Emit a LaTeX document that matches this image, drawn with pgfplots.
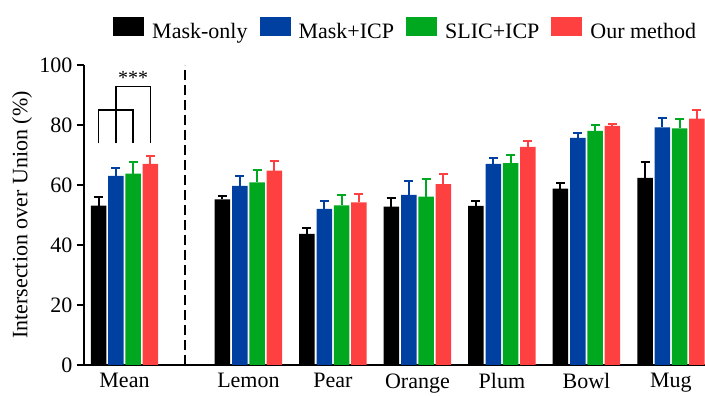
\documentclass[border=0pt]{standalone}
\usepackage{pgfplots}
\pgfplotsset{compat=1.18}
\usepackage{pgfplotstable}
\usepackage{fontspec}
\setmainfont{Liberation Serif}
\definecolor{cblue}{RGB}{0,64,160}
\definecolor{cgreen}{RGB}{0,168,32}
\definecolor{cred}{RGB}{255,64,64}

\pgfplotstableread{
x y e
0 53.1 2.8
1.467 55.2 1.0
2.467 43.7 2.0
3.467 52.8 3.0
4.467 53.0 1.8
5.467 58.8 1.8
6.467 62.4 5.3
}\maskonly
\pgfplotstableread{
x y e
0 63.0 2.7
1.467 59.7 3.2
2.467 52.0 2.7
3.467 56.7 4.5
4.467 67.0 2.1
5.467 75.7 1.6
6.467 79.2 3.2
}\maskicp
\pgfplotstableread{
x y e
0 63.8 3.8
1.467 60.9 4.2
2.467 53.2 3.6
3.467 56.1 5.8
4.467 67.3 2.8
5.467 78.0 1.9
6.467 78.9 3.2
}\slicicp
\pgfplotstableread{
x y e
0 67.0 2.6
1.467 64.8 3.1
2.467 54.2 2.7
3.467 60.3 3.5
4.467 72.7 1.8
5.467 79.7 0.6
6.467 82.1 3.0
}\ours

\pgfplotsset{
  eb/.style={fill=#1, draw=none,
    error bars/y dir=plus, error bars/y explicit,
    error bars/error bar style={line width=2pt, draw=#1},
    error bars/error mark options={line width=2pt, mark size=4.5pt, draw=#1, rotate=90}},
}

\begin{document}
\begin{tikzpicture}
\path[use as bounding box] (-84pt,-31pt) rectangle (621pt,365pt);
\begin{axis}[
  at={(0,0)}, anchor=south west,
  scale only axis,
  width=621pt, height=300pt,
  xmin=-0.479, xmax=6.87,
  ymin=0, ymax=100,
  axis x line*=bottom, axis y line*=left,
  axis line style={line width=1.5pt},
  ybar=1.8pt, bar width=15.5pt,
  xtick={0,1.467,2.467,3.467,4.467,5.467,6.467},
  xticklabels={Mean,Lemon,Pear,Orange,Plum,Bowl,Mug},
  x tick style={draw=none},
  ytick={0,20,40,60,80,100},
  ytick pos=left,
  tick align=outside,
  y tick style={line width=1.5pt, black},
  major tick length=7pt,
  font=\fontsize{22}{26}\selectfont,
  /pgf/number format/assume math mode=true,
  yticklabel style={xshift=-1pt},
  xticklabel style={yshift=2pt},
  ylabel={Intersection over Union (\%)},
  every axis y label/.style={at={(axis description cs:-0.0998,0.5)}, anchor=center, rotate=90},
  legend columns=4,
  legend style={draw=none, fill=none, at={(0.518,1.068)}, anchor=south,
    font=\fontsize{22}{26}\selectfont,
    /tikz/every odd column/.append style={column sep=6pt},
    /tikz/every even column/.append style={column sep=10pt}},
  legend image code/.code={\fill[#1] (0pt,-4pt) rectangle (31pt,15pt);},
  clip=false,
]
\addplot[eb=black] table[x=x, y=y, y error=e] {\maskonly};
\addplot[eb=cblue] table[x=x, y=y, y error=e] {\maskicp};
\addplot[eb=cgreen] table[x=x, y=y, y error=e] {\slicicp};
\addplot[eb=cred] table[x=x, y=y, y error=e] {\ours};
\legend{Mask-only, Mask+ICP, SLIC+ICP, Our method}
% separator
\draw[line width=2.7pt, dash pattern=on 10pt off 5pt] (axis cs:0.716,0) -- (axis cs:0.716,100);
% significance brackets
\draw[line width=1.5pt] (axis cs:-0.307,73.9) -- (axis cs:-0.307,85) -- (axis cs:0.102,85) -- (axis cs:0.102,73.9);
\draw[line width=1.5pt] (axis cs:-0.102,73.9) -- (axis cs:-0.102,92.8) -- (axis cs:0.307,92.8) -- (axis cs:0.307,73.9);
\node[font=\fontsize{20}{22}\selectfont] at (axis cs:0.102,95.8) {***};
\end{axis}
\end{tikzpicture}
\end{document}
